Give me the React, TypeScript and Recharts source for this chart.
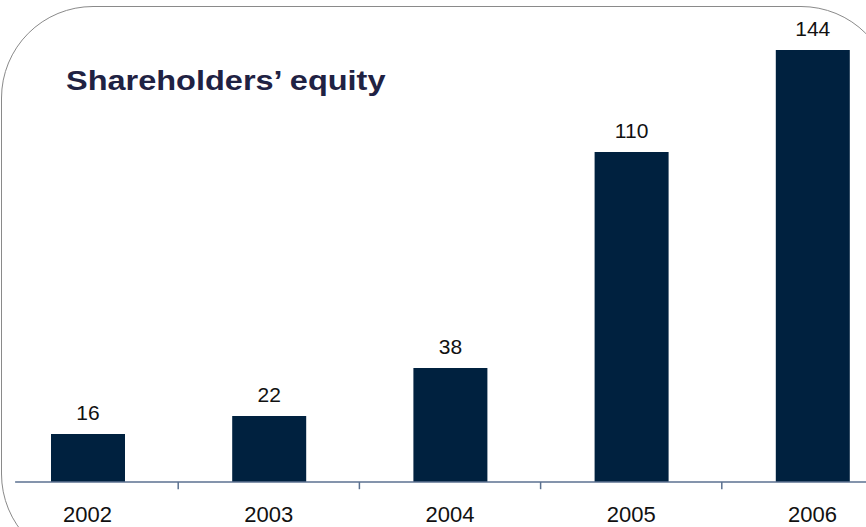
import { Bar, BarChart, LabelList, ReferenceLine, XAxis, YAxis } from 'recharts';

const years = ['2002', '2003', '2004', '2005', '2006'];
const equity = [16, 22, 38, 110, 144];
const dividers = [1, 2, 3, 4];

const data = years.map((year, i) => ({ year, idx: i + 0.5, equity: equity[i] }));

const FONT = '"Liberation Sans", Arial, sans-serif';
const AXIS = '#5b7190';

const App = () => (
    <div
        style={{
            position: 'absolute',
            left: 0,
            top: 0,
            width: 866,
            height: 527,
            overflow: 'hidden',
            background: '#fff',
            fontFamily: FONT,
        }}
    >
        {/* rounded frame, mostly cropped off the page */}
        <div
            style={{
                position: 'absolute',
                left: 1,
                top: 6,
                width: 892,
                height: 560,
                border: '1.5px solid #8a8a8a',
                borderRadius: 92,
                boxSizing: 'border-box',
            }}
        />
        <div
            style={{
                position: 'absolute',
                left: 66,
                top: 65,
                fontSize: 28,
                fontWeight: 700,
                color: '#1f2243',
                whiteSpace: 'nowrap',
                transform: 'scaleX(1.16)',
                transformOrigin: 'left center',
            }}
        >
            Shareholders’ equity
        </div>
        <div style={{ position: 'absolute', left: -3, top: 0 }}>
            <BarChart width={906} height={527} data={data} margin={{ top: 2, right: 0, bottom: 0, left: 0 }}>
                <XAxis
                    dataKey="year"
                    height={45}
                    axisLine={false}
                    tickLine={false}
                    tickMargin={18}
                    interval={0}
                    tick={{ fontSize: 22, fill: '#111', fontFamily: FONT }}
                />
                <XAxis xAxisId="n" dataKey="idx" type="number" domain={[0, 5]} allowDataOverflow hide />
                <YAxis domain={[0, 160]} hide />
                <ReferenceLine
                    xAxisId="n"
                    segment={[{ x: 0.1, y: 0 }, { x: 5, y: 0 }]}
                    stroke={AXIS}
                    strokeWidth={1.5}
                    ifOverflow="visible"
                />
                {dividers.map((d) => (
                    <ReferenceLine
                        key={d}
                        xAxisId="n"
                        segment={[{ x: d, y: 0 }, { x: d, y: -2.4 }]}
                        stroke={AXIS}
                        strokeWidth={1.5}
                        ifOverflow="visible"
                    />
                ))}
                <Bar dataKey="equity" fill="#00213f" barSize={74} isAnimationActive={false}>
                    <LabelList dataKey="equity" position="top" offset={14} fill="#111" fontSize={21} fontFamily={FONT} />
                </Bar>
            </BarChart>
        </div>
    </div>
);

export default App;
